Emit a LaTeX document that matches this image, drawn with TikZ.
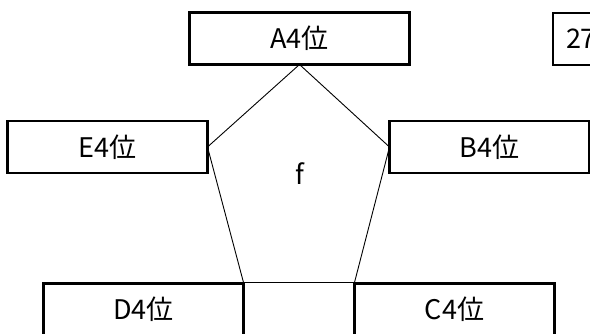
\documentclass[tikz,border=0pt]{standalone}
\usepackage{fontspec}
\setmainfont{Noto Sans CJK JP}

\begin{document}
\begin{tikzpicture}[x=1pt,y=1pt,yscale=-1,xscale=1,
		posbox/.style={draw=black, line width=2.6pt, outer sep=0pt, minimum width=200pt, minimum height=52pt, inner sep=0pt, font=\fontsize{27}{30}\selectfont},
		sideline/.style={draw=black, line width=0.9pt}]
		% Set diagram from 0 to 590 wide and 334 high, and cut the boxes at the edge
		\clip (0,0) rectangle (590,334);
		\fill[white] (0,0) rectangle (590,334);

		% The boxes round the pentagon
		\node[posbox, minimum width=220pt] (A) at (299.5,38.5) {A4位};
		\node[posbox] (B) at (489.5,147) {B4位};
		\node[posbox] (C) at (454.5,309.5) {C4位};
		\node[posbox] (D) at (143.5,309.5) {D4位};
		\node[posbox] (E) at (107.5,147) {E4位};

		% The box cut by the right edge
		\node[posbox, minimum width=220pt, anchor=north west, text width=194pt, inner xsep=13pt, align=left] (F) at (553,13) {27};

		% The pentagon from box to box
		\draw[sideline] (A.south) -- (B.west) -- ([yshift=-1pt]C.north west) -- ([yshift=-1pt]D.north east) -- (E.east) -- cycle;

		% The letter inside the pentagon
		\node[font=\fontsize{27}{30}\selectfont, inner sep=0pt] (f) at (300,174) {f};
	\end{tikzpicture}
\end{document}
